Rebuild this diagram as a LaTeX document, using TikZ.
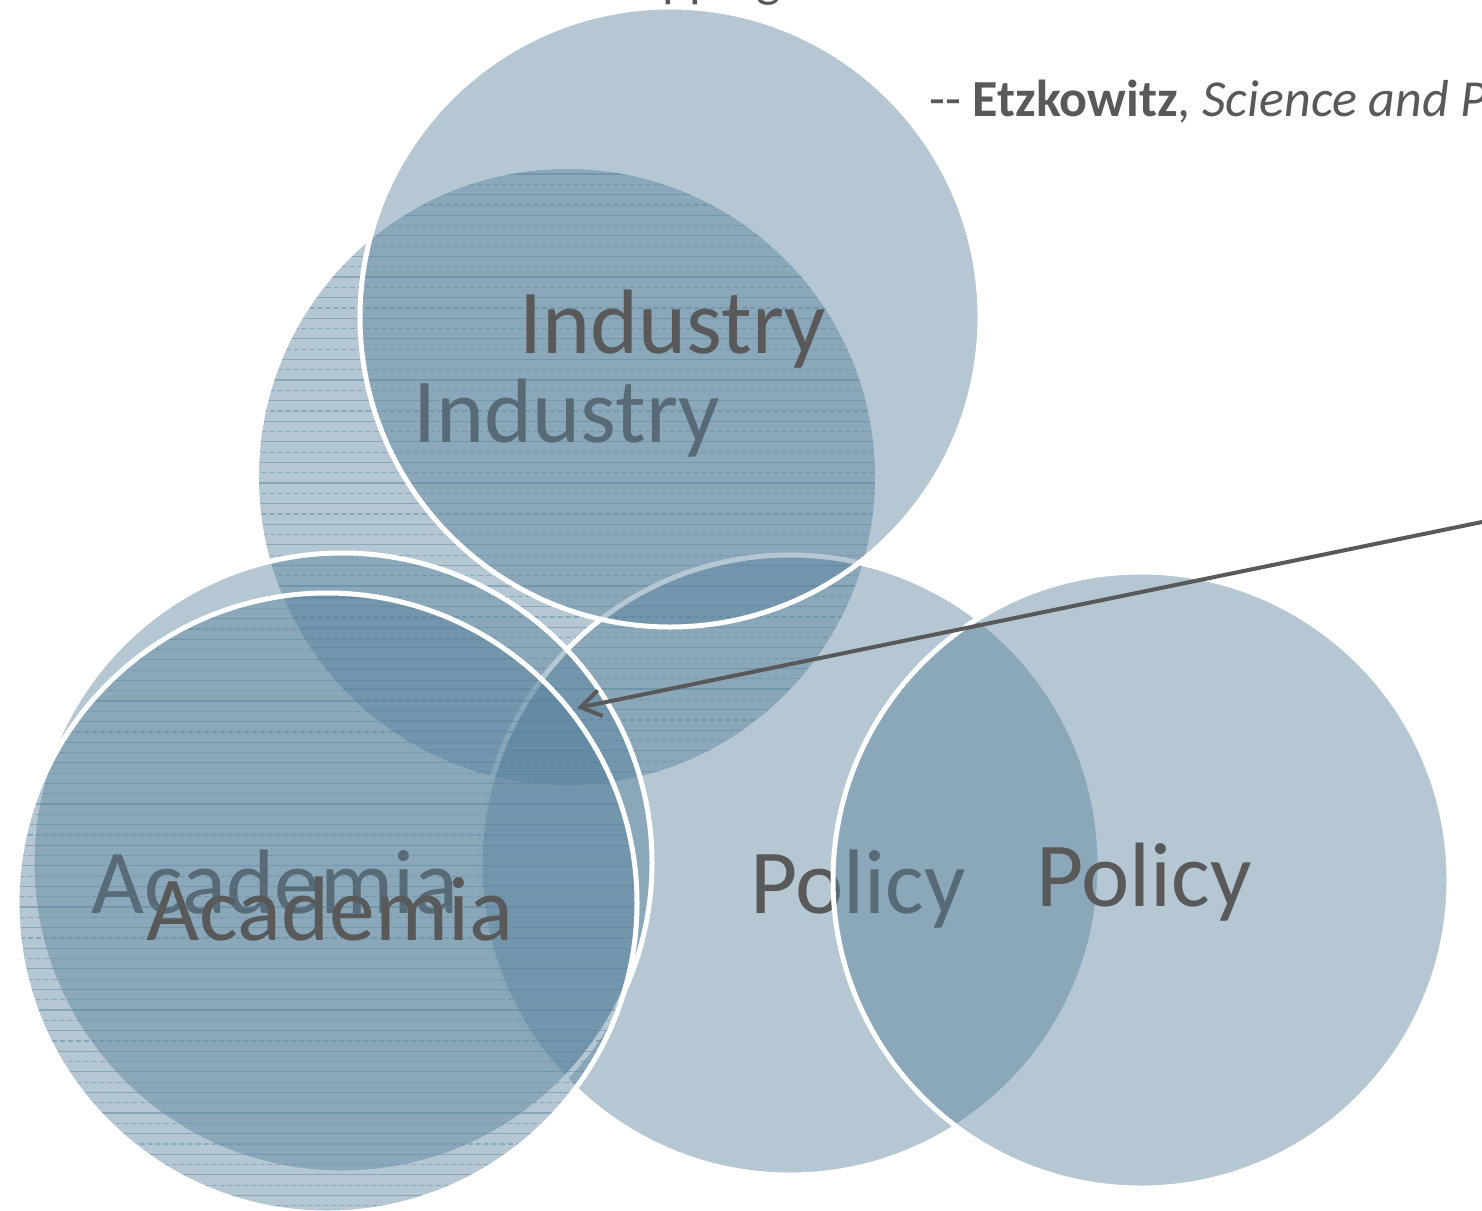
\documentclass[tikz,border=0pt]{standalone}
\usepackage{fontspec}
\setmainfont{Carlito}
\usetikzlibrary{arrows.meta}
\definecolor{vennblue}{RGB}{85,128,155}
\definecolor{txtgrey}{RGB}{89,89,89}
\tikzset{
  venn/.style={fill=vennblue, fill opacity=0.44},
  whiteedge/.style={draw=white, line width=5pt},
  hatchsolid/.style={draw=vennblue, draw opacity=0.45, line width=1.2pt},
  hatchdash/.style={draw=vennblue, draw opacity=0.45, line width=1.2pt, dash pattern=on 5pt off 3pt},
  biglabel/.style={text=txtgrey, font=\fontsize{91.5}{110}\selectfont, anchor=base, inner sep=0pt},
  quotetext/.style={text=txtgrey, font=\fontsize{52}{62}\selectfont, anchor=base west, inner sep=0pt},
  pointer/.style={draw=txtgrey, line width=4pt, -{Straight Barb[length=20pt,width=26pt]}}
}
\newcommand{\hatchdisk}[3]{%
  \begin{scope}
    \clip (#1,#2) circle[radius=#3];
    \foreach \k in {0,...,32} {
      \pgfmathsetmacro\ya{#2-#3+5+\k*20.6}
      \pgfmathsetmacro\yb{#2-#3+15.3+\k*20.6}
      \draw[hatchsolid] (#1-#3-5,\ya) -- (#1+#3+5,\ya);
      \draw[hatchdash] (#1-#3-5,\yb) -- (#1+#3+5,\yb);
    }
  \end{scope}}
\begin{document}
\begin{tikzpicture}[x=1pt,y=-1pt]
\useasboundingbox (0,0) rectangle (1482,1210);

% cut-off title at top
\node[quotetext] (title) at (531,-4) {overlapping};

% Industry (back, hatched)
\path[venn] (567,477) circle[radius=308];
\hatchdisk{567}{477}{308}
\node[biglabel] (indback) at (567,442) {Industry};

% Policy (back)
\path[venn] (790,865) circle[radius=310];
\draw[whiteedge] (790,865) circle[radius=310];
\node[biglabel] (polback) at (858,913) {Policy};

% Academia (outer, solid)
\path[venn] (342,863) circle[radius=310];
\draw[whiteedge] (342,863) circle[radius=310];
\node[biglabel] (acaback) at (275,913) {Academia};

% Academia (inner, hatched)
\path[venn] (327,903) circle[radius=310];
\hatchdisk{327}{903}{310}
\draw[whiteedge] (327,903) circle[radius=310];

% Industry (front)
\path[venn] (670,317) circle[radius=310];
\draw[whiteedge] (670,317) circle[radius=310];
\node[biglabel] (indfront) at (673,353) {Industry};

% Policy (front)
\path[venn] (1141,880) circle[radius=308];
\draw[whiteedge] (1141,880) circle[radius=308];
\node[biglabel] (polfront) at (1144,906) {Policy};

\node[biglabel] (acafront) at (330,940) {Academia};

% pointer arrow
\coordinate (arrowstart) at (1500,518.3);
\coordinate (arrowtip) at (577,708);
\draw[pointer] (arrowstart) -- (arrowtip);

% quote
\node[quotetext] (quote) at (929,116) {-{}- \textbf{Etzkowitz}, \textit{Science and P}};
\end{tikzpicture}
\end{document}
